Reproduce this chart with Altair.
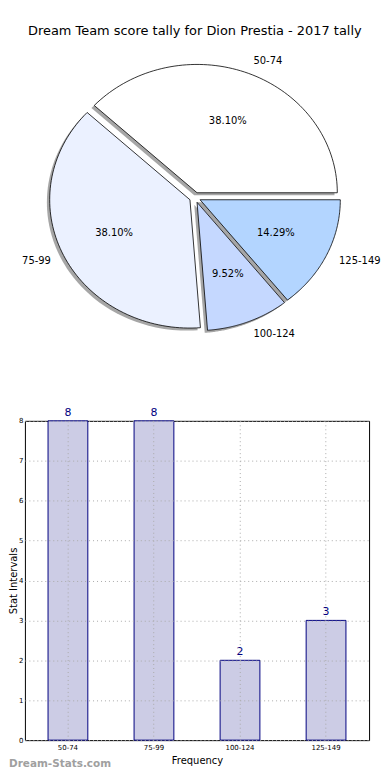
import altair as alt
import pandas as pd

# ---- data ----
categories = ["50-74", "75-99", "100-124", "125-149"]
counts = [8, 8, 2, 3]
pie_colors = ["#FFFFFF", "#EBF1FF", "#C5D8FF", "#B3D5FF"]
y_ticks = [0, 1, 2, 3, 4, 5, 6, 7, 8]
title_text = "Dream Team score tally for Dion Prestia - 2017 tally"
watermark = ["Dream-Stats.com"]

df = pd.DataFrame({"cat": categories, "count": counts, "idx": list(range(len(categories)))})

EXPLODE = 0.04
LABEL_D = 1.1
PCT_D = 0.6
N = 80
FONT = "DejaVu Sans"

# layout (pixels)
PLOT_L = 24
BAR_W, BAR_H = 346, 321
PIE_W, PIE_H = 346, 345
CX, CY, RX, RY = 195, 198.5, 141, 129
PIE_TOP = 50

XS = alt.Scale(domain=[-(CX - PLOT_L) / RX, (PLOT_L + PIE_W - CX) / RX], nice=False, zero=False)
YS = alt.Scale(domain=[-(PIE_TOP + PIE_H - CY) / RY, (CY - PIE_TOP) / RY], nice=False, zero=False)

pie_base = (
    alt.Chart(df)
    .transform_joinaggregate(total="sum(count)")
    .transform_window(cum="sum(count)", sort=[alt.SortField("idx")], frame=[None, 0])
    .transform_calculate(
        a0="2*PI*(datum.cum - datum.count)/datum.total",
        a1="2*PI*datum.cum/datum.total",
    )
    .transform_calculate(mid="(datum.a0 + datum.a1)/2")
    .transform_calculate(
        ex=f"{EXPLODE}*cos(datum.mid)",
        ey=f"{EXPLODE}*sin(datum.mid)",
    )
)

poly = (
    pie_base.transform_calculate(k=f"sequence(0, {N + 3})")
    .transform_flatten(["k"])
    .transform_calculate(ang=f"datum.a0 + (datum.a1 - datum.a0)*(datum.k - 1)/{N}")
    .transform_calculate(
        px=f"(datum.k == 0 || datum.k == {N + 2}) ? datum.ex : datum.ex + cos(datum.ang)",
        py=f"(datum.k == 0 || datum.k == {N + 2}) ? datum.ey : datum.ey + sin(datum.ang)",
    )
)

shadow = poly.transform_calculate(
    sx="datum.px - 0.02", sy="datum.py - 0.02"
).mark_line(filled=True, fill="#4d4d4d", fillOpacity=0.5, strokeWidth=0).encode(
    x=alt.X("sx:Q", scale=XS, axis=None),
    y=alt.Y("sy:Q", scale=YS, axis=None),
    detail="cat:N",
    order="k:Q",
)

wedges = poly.mark_line(filled=True, stroke="black", strokeWidth=0.8, fillOpacity=1).encode(
    x=alt.X("px:Q", scale=XS, axis=None),
    y=alt.Y("py:Q", scale=YS, axis=None),
    color=alt.Color("cat:N", scale=alt.Scale(domain=categories, range=pie_colors), legend=None),
    detail="cat:N",
    order="k:Q",
)

lab = pie_base.transform_calculate(
    lx=f"datum.ex + {LABEL_D}*cos(datum.mid)",
    ly=f"datum.ey + {LABEL_D}*sin(datum.mid)",
    tx=f"datum.ex + {PCT_D}*cos(datum.mid)",
    ty=f"datum.ey + {PCT_D}*sin(datum.mid)",
    pct="format(datum.count/datum.total*100, '.2f') + '%'",
)

out_r = lab.transform_filter("datum.lx > 0").mark_text(
    align="left", baseline="middle", fontSize=10, font=FONT, color="black"
).encode(x=alt.X("lx:Q", scale=XS, axis=None), y=alt.Y("ly:Q", scale=YS, axis=None), text="cat:N")
out_l = lab.transform_filter("datum.lx <= 0").mark_text(
    align="right", baseline="middle", fontSize=10, font=FONT, color="black"
).encode(x=alt.X("lx:Q", scale=XS, axis=None), y=alt.Y("ly:Q", scale=YS, axis=None), text="cat:N")
pct = lab.mark_text(
    align="center", baseline="middle", fontSize=10, font=FONT, color="black"
).encode(x=alt.X("tx:Q", scale=XS, axis=None), y=alt.Y("ty:Q", scale=YS, axis=None), text="pct:N")

pie = alt.layer(shadow, wedges, out_r, out_l, pct).properties(
    width=PIE_W, height=PIE_H, view=alt.ViewBackground(stroke="transparent")
)

# ---- bar chart ----
xenc = alt.X(
    "cat:N",
    sort=categories,
    scale=alt.Scale(paddingInner=0, paddingOuter=0),
    axis=alt.Axis(
        title="Frequency", labelAngle=0, labelFontSize=7, labelColor="black", ticks=False,
        domain=False, grid=True, gridDash=[1, 3], gridColor="#aaaaaa", titleFontSize=10,
        titleFontWeight="normal", titleColor="black", titlePadding=5, labelPadding=3, zindex=1,
    ),
)
yenc = alt.Y(
    "count:Q",
    scale=alt.Scale(domain=[0, 8], nice=False),
    axis=alt.Axis(
        values=y_ticks, tickCount=9, title="Stat Intervals", labelFontSize=7, labelColor="black",
        ticks=False, domain=False, grid=True, gridDash=[1, 3], gridColor="#aaaaaa", titleFontSize=10,
        titleFontWeight="normal", titleColor="black", labelPadding=2, titleX=-6,
        titleY=BAR_H / 2, labelOverlap=False, zindex=1,
    ),
)

bars = alt.Chart(df).mark_bar(size=40, fill="#CCCCE5", stroke="#000080", strokeWidth=1).encode(
    x=xenc, y=yenc
)
bar_text = alt.Chart(df).mark_text(
    baseline="bottom", dy=-3, color="#000080", fontSize=11, font=FONT
).encode(x=xenc, y=yenc, text="count:Q")

wm = alt.Chart(pd.DataFrame({"t": watermark})).mark_text(
    align="left", baseline="middle", color="#A0A0A0", fontSize=10.5, fontWeight="bold", font=FONT
).encode(x=alt.value(-(PLOT_L - 8)), y=alt.value(BAR_H + 24), text="t:N")

bar_chart = alt.layer(bars, bar_text, wm).properties(width=BAR_W, height=BAR_H)

chart = (
    alt.vconcat(pie, bar_chart, spacing=12)
    .properties(
        title=alt.TitleParams(title_text, fontSize=13, fontWeight="normal", anchor="middle", font=FONT, color="black", offset=11),
        padding={"left": 0, "top": 15, "right": 0, "bottom": 0},
    )
    .configure(font=FONT)
    .configure_view(stroke="black", strokeWidth=1)
)

chart.save("out.html", embed_options={"renderer": "svg", "actions": False})
